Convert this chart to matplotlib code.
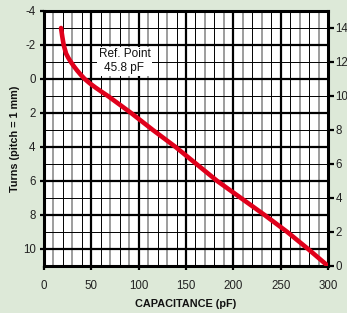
import numpy as np
import matplotlib.pyplot as plt

# curve: turns (left axis) vs capacitance
turns = [-3.0, -2.5, -2.0, -1.5, -1.25, -1.0, -0.75, -0.5, -0.25, 0.0, 0.25, 0.5, 0.75,
         1.0, 2.0, 3.0, 4.0, 5.0, 6.0, 7.0, 8.0, 9.0, 10.0, 11.0]
cap_pf = [18.0, 19.3, 20.8, 23.3, 25.6, 28.4, 31.5, 35.0, 38.8, 43.0, 48.3, 54.3, 60.8,
          67.5, 92.0, 115.0, 139.0, 161.0, 183.0, 208.0, 233.0, 257.0, 279.0, 300.0]

x_ticks = [0, 50, 100, 150, 200, 250, 300]
left_ticks = [-4, -2, 0, 2, 4, 6, 8, 10]
right_ticks = [0, 2, 4, 6, 8, 10, 12, 14]
ref_label = "Ref. Point\n45.8 pF"

plt.rcParams['font.family'] = ['Liberation Sans', 'DejaVu Sans']
plt.rcParams['axes.unicode_minus'] = False

bg = '#dde9d8'
red = '#e0001b'

fig = plt.figure(figsize=(3.47, 3.13), dpi=100, facecolor=bg)
ax = fig.add_axes([0.1268, 0.1502, 0.8184, 0.8147])
ax.set_facecolor('white')

ax.set_xlim(0, 300)
ax.set_ylim(11, -4)

# minor grid: vertical every 10 pF alternating gray / black, horizontal every turn
for v in range(10, 300, 10):
    if v % 50 == 0:
        continue
    if (v // 10) % 2 == 1:
        ax.axvline(v, color='#8c8c8c', lw=1.2, zorder=1)
    else:
        ax.axvline(v, color='black', lw=0.7, zorder=1)
for h in range(-3, 11, 2):
    ax.axhline(h, color='black', lw=0.7, zorder=1)
# major grid
for v in x_ticks[1:-1]:
    ax.axvline(v, color='black', lw=1.6, zorder=2)
for h in left_ticks[1:]:
    ax.axhline(h, color='black', lw=1.6, zorder=2)

ax.plot(cap_pf, turns, color=red, lw=3.3, solid_capstyle='round',
        solid_joinstyle='round', zorder=4)

ax.text(85, -1.05, ref_label, ha='center', va='center', fontsize=8.5,
        linespacing=1.2, color='#111111', zorder=3,
        bbox=dict(facecolor='white', edgecolor='none', pad=1.2))

for s in ax.spines.values():
    s.set_linewidth(2.2)
    s.set_color('black')

ax.set_xticks(x_ticks)
ax.set_yticks(left_ticks)
ax.tick_params(axis='x', length=3, width=1.6, pad=7, labelsize=8.3, labelcolor='#222222')
ax.tick_params(axis='y', length=3, width=1.6, pad=3, labelsize=8.3, labelcolor='#222222')

ax2 = ax.twinx()
ax2.set_ylim(0, 15)
ax2.set_yticks(right_ticks)
ax2.tick_params(axis='y', length=4, width=1.6, pad=1.5, labelsize=8.3, labelcolor='#222222')
for s in ax2.spines.values():
    s.set_visible(False)

ax.set_xlabel('CAPACITANCE (pF)', fontsize=7.8, fontweight='bold', labelpad=5, color='#111111')
ax.set_ylabel('Turns (pitch = 1 mm)', fontsize=7.8, fontweight='bold', labelpad=2, color='#111111')

fig.savefig('out.png', dpi=100, facecolor=bg)
